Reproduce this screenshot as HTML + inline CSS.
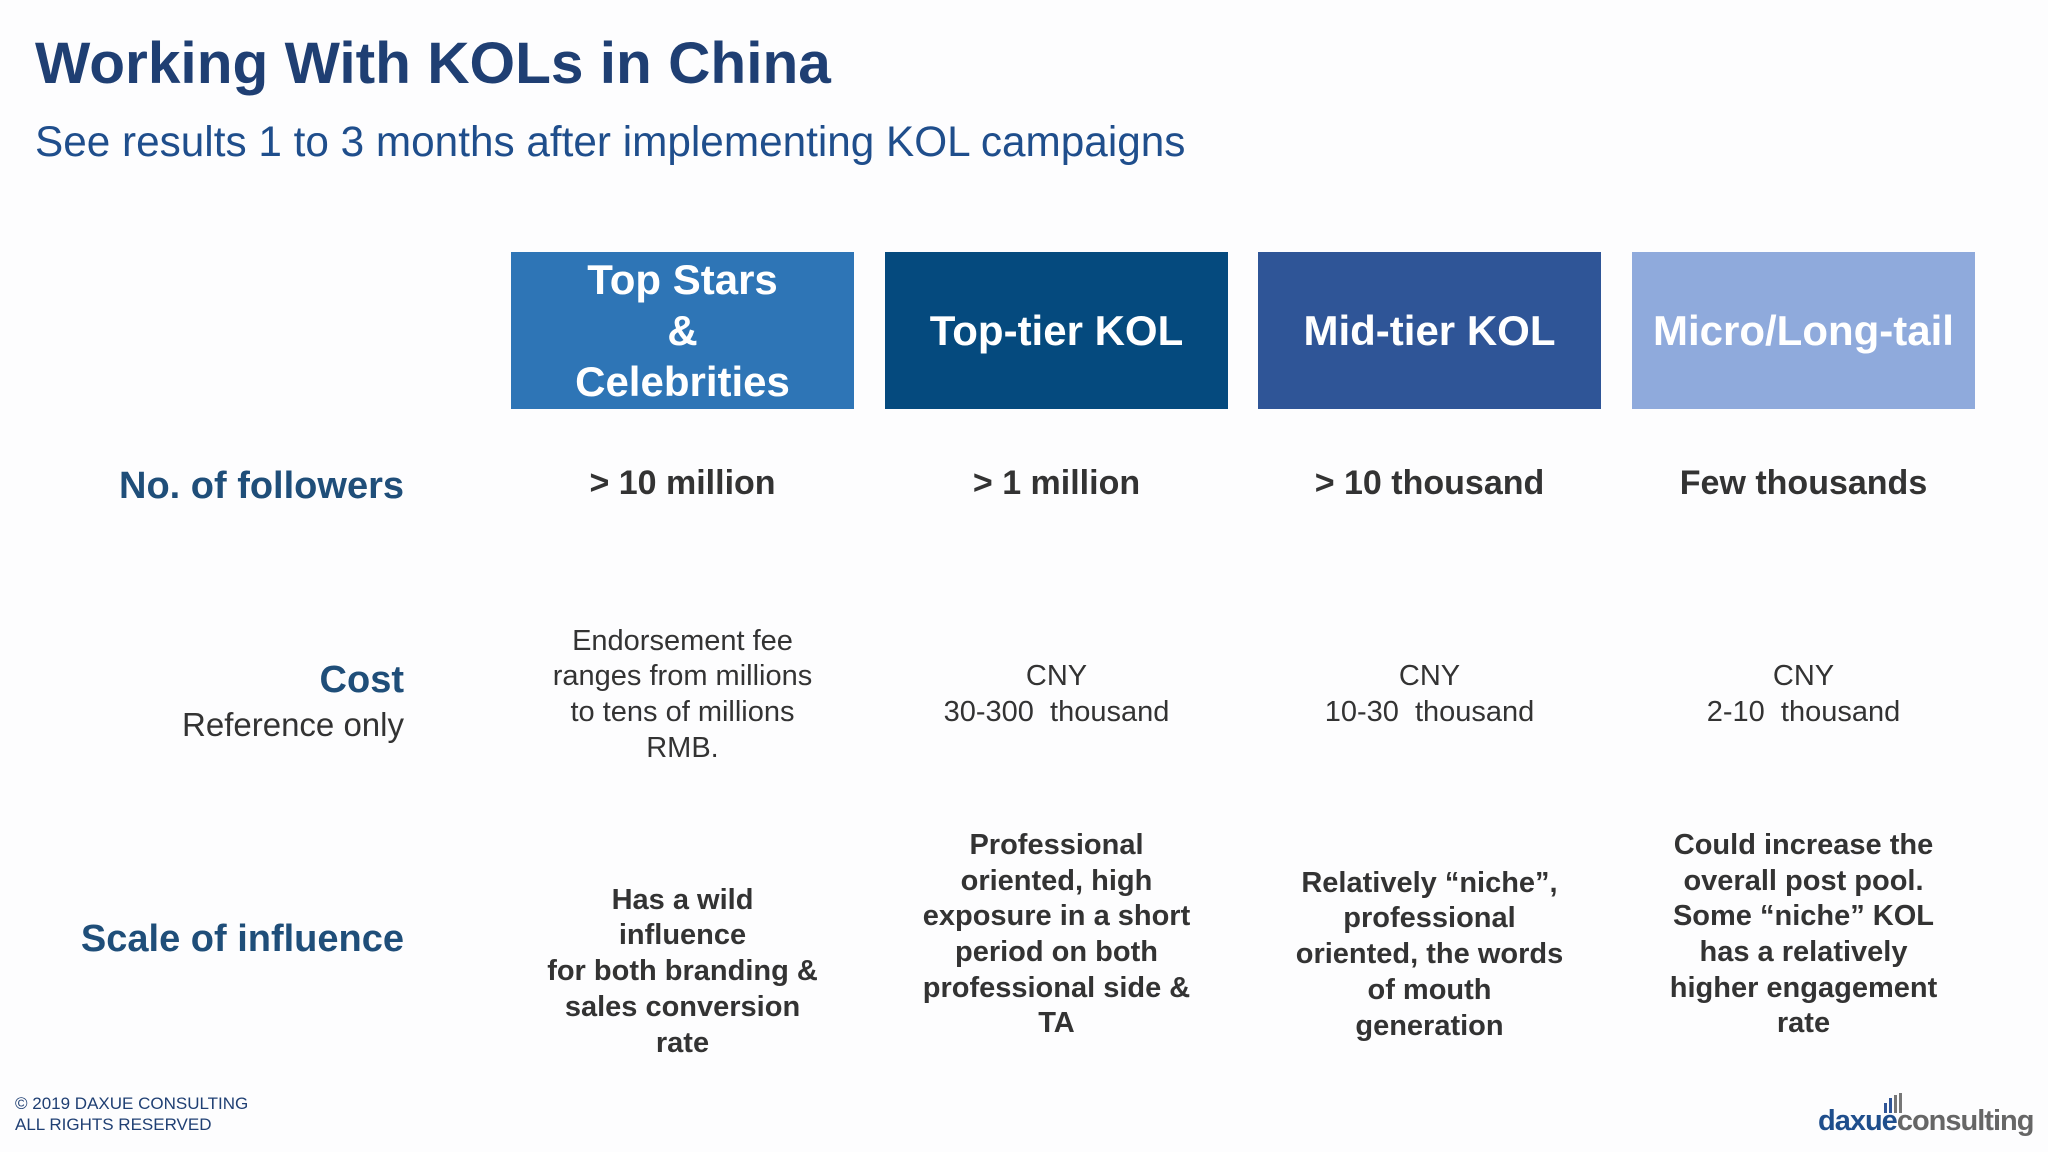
<!DOCTYPE html>
<html><head><meta charset="utf-8"><style>
html,body{margin:0;padding:0;}
body{width:2048px;height:1152px;background:#fdfdfe;position:relative;overflow:hidden;font-family:"Liberation Sans",Arial,sans-serif;}
.a{position:absolute;}
.hdr{position:absolute;top:252px;height:157px;width:343px;display:flex;align-items:center;justify-content:center;text-align:center;color:#fff;font-weight:bold;font-size:42px;line-height:51px;}
.cell{position:absolute;width:343px;display:flex;align-items:center;justify-content:center;text-align:center;color:#333;}
.fol{top:456px;height:50px;font-size:34px;font-weight:bold;}
.cost{top:605px;height:180px;font-size:29px;line-height:35.7px;}
.inf{top:805px;height:260px;font-size:29px;line-height:35.7px;font-weight:bold;}
.lbl{position:absolute;right:1644px;text-align:right;color:#1f4e79;font-weight:bold;font-size:38px;white-space:nowrap;}
</style></head><body>
<div class="a" style="left:35px;top:30px;font-size:58.6px;font-weight:bold;color:#1f3f73;white-space:nowrap;">Working With KOLs in China</div>
<div class="a" style="left:35px;top:118px;font-size:42.3px;color:#1f4e8c;white-space:nowrap;">See results 1 to 3 months after implementing KOL campaigns</div>

<div class="hdr" style="left:511px;background:#2e75b6;">Top Stars<br>&amp;<br>Celebrities</div>
<div class="hdr" style="left:885px;background:#054a7e;">Top-tier KOL</div>
<div class="hdr" style="left:1258px;background:#2f5597;">Mid-tier KOL</div>
<div class="hdr" style="left:1632px;background:#8faadc;">Micro/Long-tail</div>

<div class="lbl" style="top:465px;">No. of followers</div>
<div class="lbl" style="top:659px;">Cost</div>
<div class="a" style="right:1644px;top:706px;font-size:33px;color:#333;white-space:nowrap;">Reference only</div>
<div class="lbl" style="top:918px;">Scale of influence</div>

<div class="cell fol" style="left:511px;top:458px;">&gt; 10 million</div>
<div class="cell fol" style="left:885px;top:458px;">&gt; 1 million</div>
<div class="cell fol" style="left:1258px;top:458px;">&gt; 10 thousand</div>
<div class="cell fol" style="left:1632px;top:458px;">Few thousands</div>

<div class="cell cost" style="left:511px;">Endorsement fee<br>ranges from millions<br>to tens of millions<br>RMB.</div>
<div class="cell cost" style="left:885px;">CNY<br>30-300&nbsp; thousand</div>
<div class="cell cost" style="left:1258px;">CNY<br>10-30&nbsp; thousand</div>
<div class="cell cost" style="left:1632px;">CNY<br>2-10&nbsp; thousand</div>

<div class="cell inf" style="left:511px;top:842px;">Has a wild<br>influence<br>for both branding &amp;<br>sales conversion<br>rate</div>
<div class="cell inf" style="left:885px;">Professional<br>oriented, high<br>exposure in a short<br>period on both<br>professional side &amp;<br>TA</div>
<div class="cell inf" style="left:1258px;top:825px;">Relatively “niche”,<br>professional<br>oriented, the words<br>of mouth<br>generation</div>
<div class="cell inf" style="left:1632px;">Could increase the<br>overall post pool.<br>Some “niche” KOL<br>has a relatively<br>higher engagement<br>rate</div>

<div class="a" style="left:15px;top:1093px;font-size:17px;line-height:21px;color:#1f3f73;">© 2019 DAXUE CONSULTING<br>ALL RIGHTS RESERVED</div>
<div class="a" style="right:20px;top:1092px;width:210px;height:48px;">
  <svg width="210" height="48" style="position:absolute;left:0;top:0">
    <rect x="66" y="11" width="3" height="10" fill="#2f5597"/>
    <rect x="71" y="6" width="3" height="15" fill="#2f5597"/>
    <rect x="76" y="3" width="3" height="18" fill="#777"/>
    <rect x="81" y="1" width="3" height="20" fill="#777"/>
  </svg>
  <div style="position:absolute;left:0;top:13px;font-size:29px;font-weight:bold;letter-spacing:-1px;white-space:nowrap;"><span style="color:#1f4e8c">daxue</span><span style="color:#666">consulting</span></div>
</div>
</body></html>
